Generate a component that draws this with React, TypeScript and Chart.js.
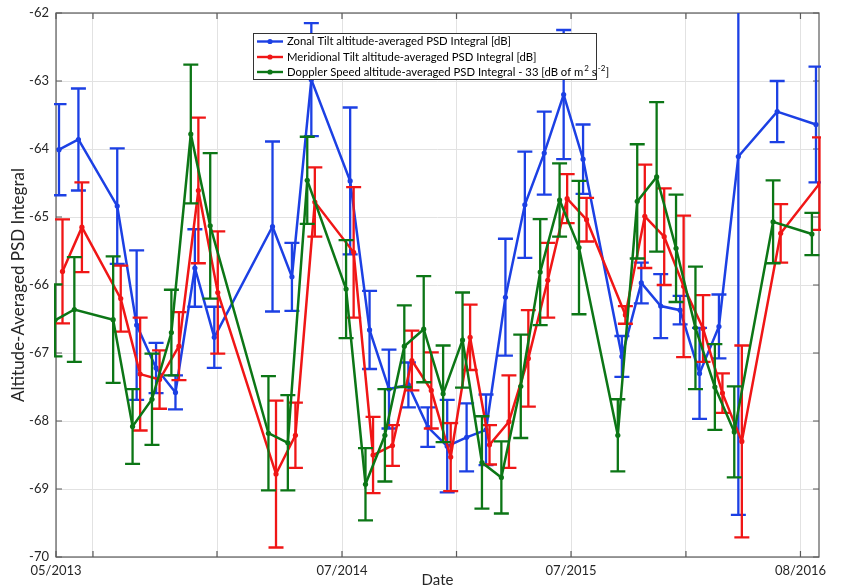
import React, { useEffect, useRef } from "react";
import { Chart, registerables } from "chart.js";

Chart.register(...registerables);

// ---- data (x = months since 05/2013) ----
const months = [0, 1, 3, 4, 5, 6, 7, 8, 11, 12, 13, 15, 16, 17, 18, 19, 20, 21, 22, 23, 24, 25, 26, 27, 29, 30, 31, 32, 33, 34, 35, 37, 39];

const zonal = [-64.01, -63.86, -64.84, -66.59, -67.22, -67.58, -65.75, -66.77, -65.14, -65.88, -62.98, -64.47, -66.66, -67.53, -67.47, -68.09, -68.37, -68.24, -68.13, -66.18, -64.82, -64.06, -63.2, -64.15, -67.05, -65.97, -66.31, -66.37, -67.3, -66.61, -64.11, -63.45, -63.64];
const zonalErr = [0.67, 0.75, 0.85, 1.1, 0.37, 0.25, 0.57, 0.45, 1.25, 0.5, 0.83, 1.08, 0.575, 0.58, 0.33, 0.29, 0.68, 0.5, 0.52, 0.86, 0.78, 0.61, 0.95, 0.51, 0.3, 0.3, 0.47, 0.21, 0.67, 0.47, 5.27, 0.45, 0.85];

const meridional = [-65.8, -65.15, -66.2, -67.31, -67.39, -66.9, -64.61, -66.11, -68.78, -68.21, -64.78, -65.52, -68.5, -68.36, -67.11, -67.55, -68.53, -66.77, -68.35, -68.01, -67.08, -65.93, -64.73, -65.04, -66.44, -64.99, -65.29, -66.02, -66.64, -67.59, -68.3, -65.24, -64.51];
const meridionalErr = [0.765, 0.66, 0.485, 0.83, 0.43, 0.5, 1.07, 0.9, 1.08, 0.48, 0.51, 0.96, 0.56, 0.3, 0.44, 0.56, 0.5, 0.48, 0.29, 0.68, 0.71, 0.55, 0.36, 0.32, 0.13, 0.76, 0.71, 1.04, 0.49, 0.29, 1.41, 0.43, 0.68];

const doppler = [-66.52, -66.36, -66.51, -68.08, -67.68, -66.7, -63.78, -65.13, -68.18, -68.32, -64.46, -66.06, -68.93, -68.21, -66.9, -66.65, -67.6, -66.81, -68.61, -68.83, -67.49, -65.81, -64.75, -65.45, -68.21, -64.77, -64.41, -65.46, -66.63, -67.5, -68.16, -65.07, -65.25];
const dopplerErr = [0.53, 0.77, 0.93, 0.55, 0.67, 0.63, 1.02, 1.07, 0.84, 0.7, 0.64, 0.72, 0.53, 0.68, 0.6, 0.78, 0.71, 0.7, 0.68, 0.53, 0.76, 0.78, 0.54, 0.98, 0.53, 0.84, 1.1, 0.79, 0.9, 0.63, 0.67, 0.61, 0.31];

const zonalOffset = 0;
const meridionalOffset = 0.18;
const dopplerOffset = -0.21;

const xMin = -0.155;
const xMax = 39.155;
const xTickValues = [-0.155, 1.75, 8.14, 14.58, 20.48, 26.38, 32.3, 38.2];
const xTickLabels = ["05/2013", "", "", "07/2014", "", "07/2015", "", "08/2016"];
const yMin = -70;
const yMax = -62;

const seriesLabels = [
  "Zonal Tilt altitude-averaged PSD Integral [dB]",
  "Meridional Tilt altitude-averaged PSD Integral [dB]",
  "Doppler Speed altitude-averaged PSD Integral - 33 [dB of m",
];

const BLUE = "rgb(28,64,228)";
const RED = "rgb(240,22,22)";
const GREEN = "rgb(12,118,22)";
const FONT = "Lato, 'Open Sans', sans-serif";
const LEGEND_SIZE = 11.3;
const SUP_SIZE = 8;

const errorBarPlugin = {
  id: "errorBars",
  afterDatasetDraw(chart: any, args: any) {
    const ds: any = chart.data.datasets[args.index];
    if (!ds.errors) return;
    const { ctx, chartArea } = chart;
    const xs = chart.scales.x;
    const ys = chart.scales.y;
    ctx.save();
    ctx.beginPath();
    ctx.rect(chartArea.left - 2, chartArea.top, chartArea.right - chartArea.left + 4, chartArea.bottom - chartArea.top);
    ctx.clip();
    ctx.strokeStyle = ds.borderColor;
    ctx.lineWidth = 2.3;
    ctx.lineCap = "butt";
    const cap = 7.5;
    ds.data.forEach((p: any, i: number) => {
      const e = ds.errors[i];
      const px = xs.getPixelForValue(p.x);
      const yt = ys.getPixelForValue(p.y + e);
      const yb = ys.getPixelForValue(p.y - e);
      ctx.beginPath();
      ctx.moveTo(px, yt);
      ctx.lineTo(px, yb);
      ctx.moveTo(px - cap, yt);
      ctx.lineTo(px + cap, yt);
      ctx.moveTo(px - cap, yb);
      ctx.lineTo(px + cap, yb);
      ctx.stroke();
    });
    ctx.restore();
  },
};

const framePlugin = {
  id: "frame",
  beforeDatasetsDraw(chart: any) {
    const { ctx, chartArea } = chart;
    const { left, right, top, bottom } = chartArea;
    const xs = chart.scales.x;
    const ys = chart.scales.y;
    ctx.save();
    ctx.strokeStyle = "#5a5a5a";
    ctx.lineWidth = 1.2;
    ctx.strokeRect(left, top, right - left, bottom - top);
    const tl = 6;
    ctx.beginPath();
    xs.ticks.forEach((t: any) => {
      const px = xs.getPixelForValue(t.value);
      ctx.moveTo(px, bottom);
      ctx.lineTo(px, bottom - tl);
      ctx.moveTo(px, top);
      ctx.lineTo(px, top + tl);
    });
    ys.ticks.forEach((t: any) => {
      const py = ys.getPixelForValue(t.value);
      ctx.moveTo(left, py);
      ctx.lineTo(left + tl, py);
      ctx.moveTo(right, py);
      ctx.lineTo(right - tl, py);
    });
    ctx.stroke();
    ctx.restore();
  },
};

const legendPlugin = {
  id: "boxLegend",
  afterDraw(chart: any) {
    const { ctx } = chart;
    const bx = 253, by = 33, bw = 343, bh = 46;
    ctx.save();
    ctx.fillStyle = "#ffffff";
    ctx.fillRect(bx, by, bw, bh);
    ctx.strokeStyle = "#333333";
    ctx.lineWidth = 1;
    ctx.strokeRect(bx + 0.5, by + 0.5, bw, bh);
    const rows = [41.5, 57, 72];
    chart.data.datasets.forEach((ds: any, i: number) => {
      const y = rows[i];
      ctx.strokeStyle = ds.borderColor;
      ctx.lineWidth = 2.4;
      ctx.beginPath();
      ctx.moveTo(257, y);
      ctx.lineTo(283, y);
      ctx.stroke();
      ctx.fillStyle = ds.borderColor;
      ctx.beginPath();
      ctx.arc(270, y, 2.6, 0, Math.PI * 2);
      ctx.fill();
      ctx.fillStyle = "#000000";
      ctx.font = `${LEGEND_SIZE}px ${FONT}`;
      ctx.textBaseline = "middle";
      ctx.textAlign = "left";
      let x = 287;
      const txt = ds.label;
      ctx.fillText(txt, x, y);
      if (i === 2) {
        x += ctx.measureText(txt).width;
        ctx.font = `${SUP_SIZE}px ${FONT}`;
        ctx.fillText("2", x + 1, y - 4);
        x += ctx.measureText("2").width + 1;
        ctx.font = `${LEGEND_SIZE}px ${FONT}`;
        ctx.fillText(" s", x, y);
        x += ctx.measureText(" s").width;
        ctx.font = `${SUP_SIZE}px ${FONT}`;
        ctx.fillText("-2", x + 1, y - 4);
        x += ctx.measureText("-2").width + 1.5;
        ctx.font = `${LEGEND_SIZE}px ${FONT}`;
        ctx.fillText("]", x, y);
      }
    });
    ctx.restore();
  },
};

function makeSeries(label: string, vals: number[], errs: number[], offset: number, color: string, order: number) {
  return {
    label,
    data: months.map((m, i) => ({ x: m + offset, y: vals[i] })),
    errors: errs,
    borderColor: color,
    backgroundColor: color,
    borderWidth: 2.5,
    pointRadius: 2.6,
    pointBorderWidth: 0,
    pointBackgroundColor: color,
    tension: 0,
    fill: false,
    order,
  };
}

export default function App() {
  const ref = useRef<HTMLCanvasElement | null>(null);
  useEffect(() => {
    if (!ref.current) return;
    const chart = new Chart(ref.current, {
      type: "line",
      data: {
        datasets: [
          makeSeries(seriesLabels[0], zonal, zonalErr, zonalOffset, BLUE, 2),
          makeSeries(seriesLabels[1], meridional, meridionalErr, meridionalOffset, RED, 1),
          makeSeries(seriesLabels[2], doppler, dopplerErr, dopplerOffset, GREEN, 0),
        ] as any,
      },
      options: {
        responsive: false,
        animation: false,
        layout: { padding: { top: 13, right: 27, left: 0, bottom: 0 } },
        plugins: { legend: { display: false }, tooltip: { enabled: false } },
        scales: {
          x: {
            type: "linear",
            min: xMin,
            max: xMax,
            afterBuildTicks: (s: any) => {
              s.ticks = xTickValues.map((v) => ({ value: v }));
            },
            afterFit: (s: any) => {
              s.height = 31;
              s.paddingLeft = 0;
              s.paddingRight = 0;
            },
            ticks: {
              autoSkip: false,
              maxRotation: 0,
              padding: 6,
              color: "#262626",
              font: { family: FONT, size: 13 },
              callback: (_v: any, i: number) => xTickLabels[i],
            },
            grid: { color: "#e2e2e2", lineWidth: 1, drawTicks: false },
            border: { display: false },
            title: {
              display: true,
              text: "Date",
              color: "#262626",
              font: { family: FONT, size: 15, lineHeight: 1 },
              padding: { top: 1, bottom: 0 },
            },
          },
          y: {
            min: yMin,
            max: yMax,
            afterFit: (s: any) => {
              s.width = 56;
              s.paddingTop = 0;
              s.paddingBottom = 0;
            },
            ticks: {
              stepSize: 1,
              padding: 7,
              color: "#262626",
              font: { family: FONT, size: 13 },
            },
            grid: { color: "#e2e2e2", lineWidth: 1, drawTicks: false },
            border: { display: false },
            title: {
              display: true,
              text: "Altitude-Averaged PSD Integral",
              color: "#262626",
              font: { family: FONT, size: 17, lineHeight: 1.1 },
              padding: { top: 9, bottom: 0 },
            },
          },
        },
      } as any,
      plugins: [framePlugin, errorBarPlugin, legendPlugin],
    });
    return () => chart.destroy();
  }, []);
  return (
    <div style={{ position: "absolute", left: 0, top: 0, width: 846, height: 588, background: "#fff" }}>
      <canvas ref={ref} width={846} height={588} />
    </div>
  );
}
